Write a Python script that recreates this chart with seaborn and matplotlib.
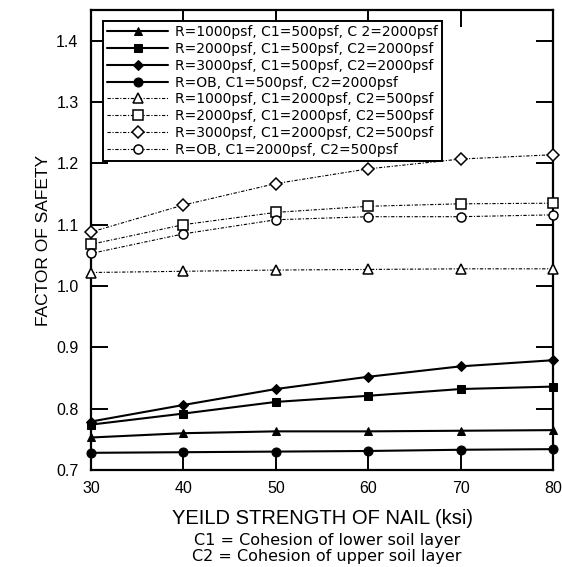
import numpy as np
import pandas as pd
import matplotlib
matplotlib.use("Agg")
import matplotlib.pyplot as plt
import seaborn as sns

# ---- data ----
yield_strength = [30, 40, 50, 60, 70, 80]

labels = [
    "R=1000psf, C1=500psf, C 2=2000psf",
    "R=2000psf, C1=500psf, C2=2000psf",
    "R=3000psf, C1=500psf, C2=2000psf",
    "R=OB, C1=500psf, C2=2000psf",
    "R=1000psf, C1=2000psf, C2=500psf",
    "R=2000psf, C1=2000psf, C2=500psf",
    "R=3000psf, C1=2000psf, C2=500psf",
    "R=OB, C1=2000psf, C2=500psf",
]

fs_r1000_c500 = [0.753, 0.760, 0.763, 0.763, 0.764, 0.765]
fs_r2000_c500 = [0.774, 0.792, 0.811, 0.821, 0.832, 0.836]
fs_r3000_c500 = [0.779, 0.806, 0.832, 0.852, 0.869, 0.879]
fs_rob_c500 = [0.728, 0.729, 0.730, 0.731, 0.733, 0.734]
fs_r1000_c2000 = [1.022, 1.024, 1.026, 1.027, 1.028, 1.028]
fs_r2000_c2000 = [1.068, 1.100, 1.120, 1.130, 1.134, 1.135]
fs_r3000_c2000 = [1.088, 1.132, 1.167, 1.191, 1.207, 1.214]
fs_rob_c2000 = [1.053, 1.085, 1.108, 1.113, 1.113, 1.116]

series = [fs_r1000_c500, fs_r2000_c500, fs_r3000_c500, fs_rob_c500,
          fs_r1000_c2000, fs_r2000_c2000, fs_r3000_c2000, fs_rob_c2000]

# ---- styles ----
markers = ["^", "s", "D", "o", "^", "s", "D", "o"]
filled = [True, True, True, True, False, False, False, False]
msizes = [6, 6, 5.5, 6.5, 6.5, 6.5, 6, 6.5]

sns.set_style("ticks")
plt.rcParams['font.family'] = ['Liberation Sans', 'DejaVu Sans']
plt.rcParams['text.color'] = 'black'
plt.rcParams['axes.labelcolor'] = 'black'
plt.rcParams['xtick.color'] = 'black'
plt.rcParams['ytick.color'] = 'black'

fig = plt.figure(figsize=(5.62, 5.67), dpi=100)
ax = fig.add_axes([91/562, 1 - 470/567, (553 - 91)/562, (470 - 10)/567])

for lab, vals, mk, fl, ms in zip(labels, series, markers, filled, msizes):
    df = pd.DataFrame({"x": yield_strength, "y": vals})
    if fl:
        sns.lineplot(data=df, x="x", y="y", ax=ax, color="black", lw=1.5,
                     marker=mk, markersize=ms, markerfacecolor="black",
                     markeredgecolor="black", label=lab, clip_on=False, zorder=3)
    else:
        sns.lineplot(data=df, x="x", y="y", ax=ax, color="black", lw=0.8,
                     linestyle=(0, (3, 1.5, 1, 1.5)),
                     marker=mk, markersize=ms, markerfacecolor="white",
                     markeredgecolor="black", markeredgewidth=1.1,
                     label=lab, clip_on=False, zorder=3)

ax.set_xlim(30, 80)
ax.set_ylim(0.7, 1.45)
ax.set_xticks([30, 40, 50, 60, 70, 80])
ax.set_yticks([0.7, 0.8, 0.9, 1.0, 1.1, 1.2, 1.3, 1.4])
ax.set_yticklabels(["0.7", "0.8", "0.9", "1.0", "1.1", "1.2", "1.3", "1.4"])
ax.tick_params(axis="both", direction="in", length=12, width=1.4,
               top=True, right=True, labelsize=11.5, colors="black")
ax.tick_params(axis="y", pad=9)
ax.tick_params(axis="x", pad=8)
for sp in ax.spines.values():
    sp.set_linewidth(1.6)
    sp.set_color("black")

ax.set_xlabel("YEILD STRENGTH OF NAIL (ksi)", fontsize=14.5, labelpad=9, color="black")
ax.set_ylabel("FACTOR OF SAFETY", fontsize=12.5, labelpad=4, color="black")

fig.text(327/562, 1 - 540/567, "C1 = Cohesion of lower soil layer",
         ha="center", va="center", fontsize=11.5, family="DejaVu Sans", color="black")
fig.text(327/562, 1 - 556/567, "C2 = Cohesion of upper soil layer",
         ha="center", va="center", fontsize=11.5, family="DejaVu Sans", color="black")

leg = ax.legend(loc="upper left", bbox_to_anchor=(103/562, 1 - 21/567),
                bbox_transform=fig.transFigure, frameon=True, fancybox=False,
                edgecolor="black", prop={"family": "DejaVu Sans", "size": 10},
                handlelength=4.4, labelspacing=0.2, borderpad=0.3,
                handletextpad=0.5, borderaxespad=0)
leg.get_frame().set_linewidth(1.4)
leg.get_frame().set_alpha(1)
for t in leg.get_texts():
    t.set_color("black")

fig.savefig("out.png", dpi=100)
